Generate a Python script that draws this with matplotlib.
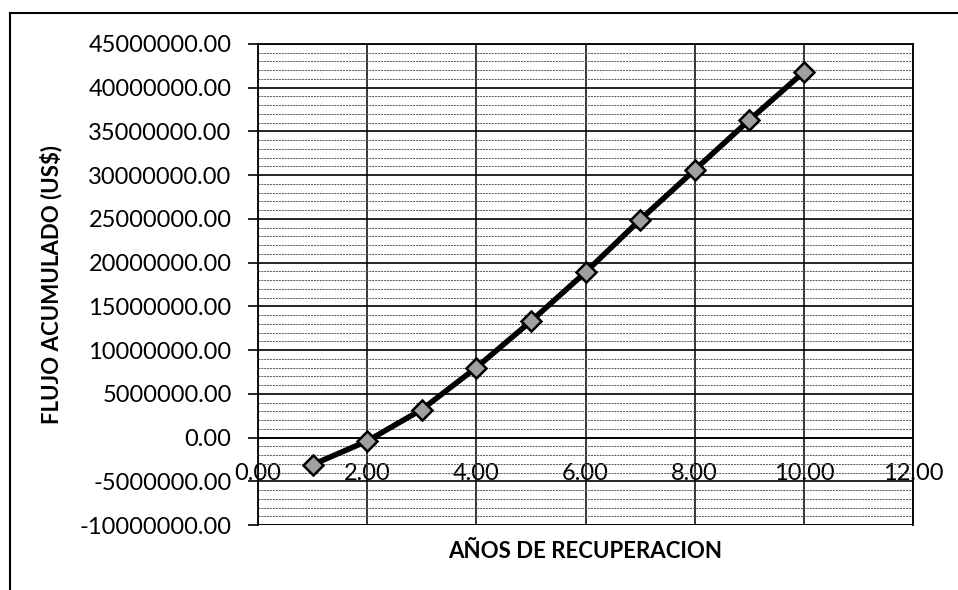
import matplotlib
matplotlib.use("Agg")
import matplotlib.pyplot as plt
from matplotlib.ticker import MultipleLocator, FuncFormatter
from matplotlib.lines import Line2D

plt.rcParams["font.family"] = ["Lato", "DejaVu Sans"]

# cumulative cash flow per recovery year (US$)
years = [1, 2, 3, 4, 5, 6, 7, 8, 9, 10]
flujo = [-3100000, -400000, 3200000, 8000000, 13300000,
         18900000, 24900000, 30600000, 36300000, 41800000]

x_ticks = [0, 2, 4, 6, 8, 10, 12]
y_ticks = list(range(-10000000, 45000001, 5000000))

fig = plt.figure(figsize=(9.58, 5.90), dpi=100)
ax = fig.add_axes([258 / 958, 1 - 525 / 590, (913 - 258) / 958, (525 - 44) / 590])

ax.set_xlim(0, 12)
ax.set_ylim(-10000000, 45000000)

# grid: minor every 1M, major every 5M, vertical every 2 units
ax.yaxis.set_minor_locator(MultipleLocator(1000000))
ax.grid(which="minor", axis="y", color="#555555", linewidth=0.7,
        linestyle=(0, (2, 1)))
ax.grid(which="major", axis="y", color="black", linewidth=1.2)
ax.grid(which="major", axis="x", color="black", linewidth=1.1)
ax.set_axisbelow(True)

ax.set_xticks(x_ticks)
ax.set_yticks(y_ticks)
ax.xaxis.set_major_formatter(FuncFormatter(lambda v, p: f"{v:.2f}"))
ax.yaxis.set_major_formatter(FuncFormatter(lambda v, p: f"{v:.2f}"))
ax.tick_params(axis="y", which="major", length=7, width=1.2, pad=12,
               labelsize=17)
ax.tick_params(axis="y", which="minor", length=0)
ax.tick_params(axis="x", length=0, pad=18, labelsize=17)

for side in ["left", "right", "top", "bottom"]:
    ax.spines[side].set_linewidth(1.3)
    ax.spines[side].set_color("black")
ax.spines["bottom"].set_position(("data", 0))
ax.spines["bottom"].set_linewidth(1.2)
ax.axhline(-10000000, color="black", linewidth=1.3, zorder=1)

ax.plot(years, flujo, color="black", linewidth=4.0, marker="D",
        markersize=10, markerfacecolor="#a0a0a0", markeredgecolor="black",
        markeredgewidth=1.8, zorder=3, clip_on=False)

ax.set_ylabel("FLUJO ACUMULADO (US$)", fontsize=16, fontweight="bold")
ax.yaxis.set_label_coords(-(258 - 62) / 655, 0.5)
fig.text(585 / 958, 1 - 551 / 590, "AÑOS DE RECUPERACION", fontsize=16,
         fontweight="bold", ha="center", va="center")

# outer chart frame (top and left edges visible in the scan)
fig.add_artist(Line2D([10 / 958, 1.0], [1 - 13 / 590, 1 - 13 / 590],
                      transform=fig.transFigure, color="black", linewidth=1.5))
fig.add_artist(Line2D([10 / 958, 10 / 958], [0, 1 - 13 / 590],
                      transform=fig.transFigure, color="black", linewidth=1.5))

fig.savefig("out.png", dpi=100)
